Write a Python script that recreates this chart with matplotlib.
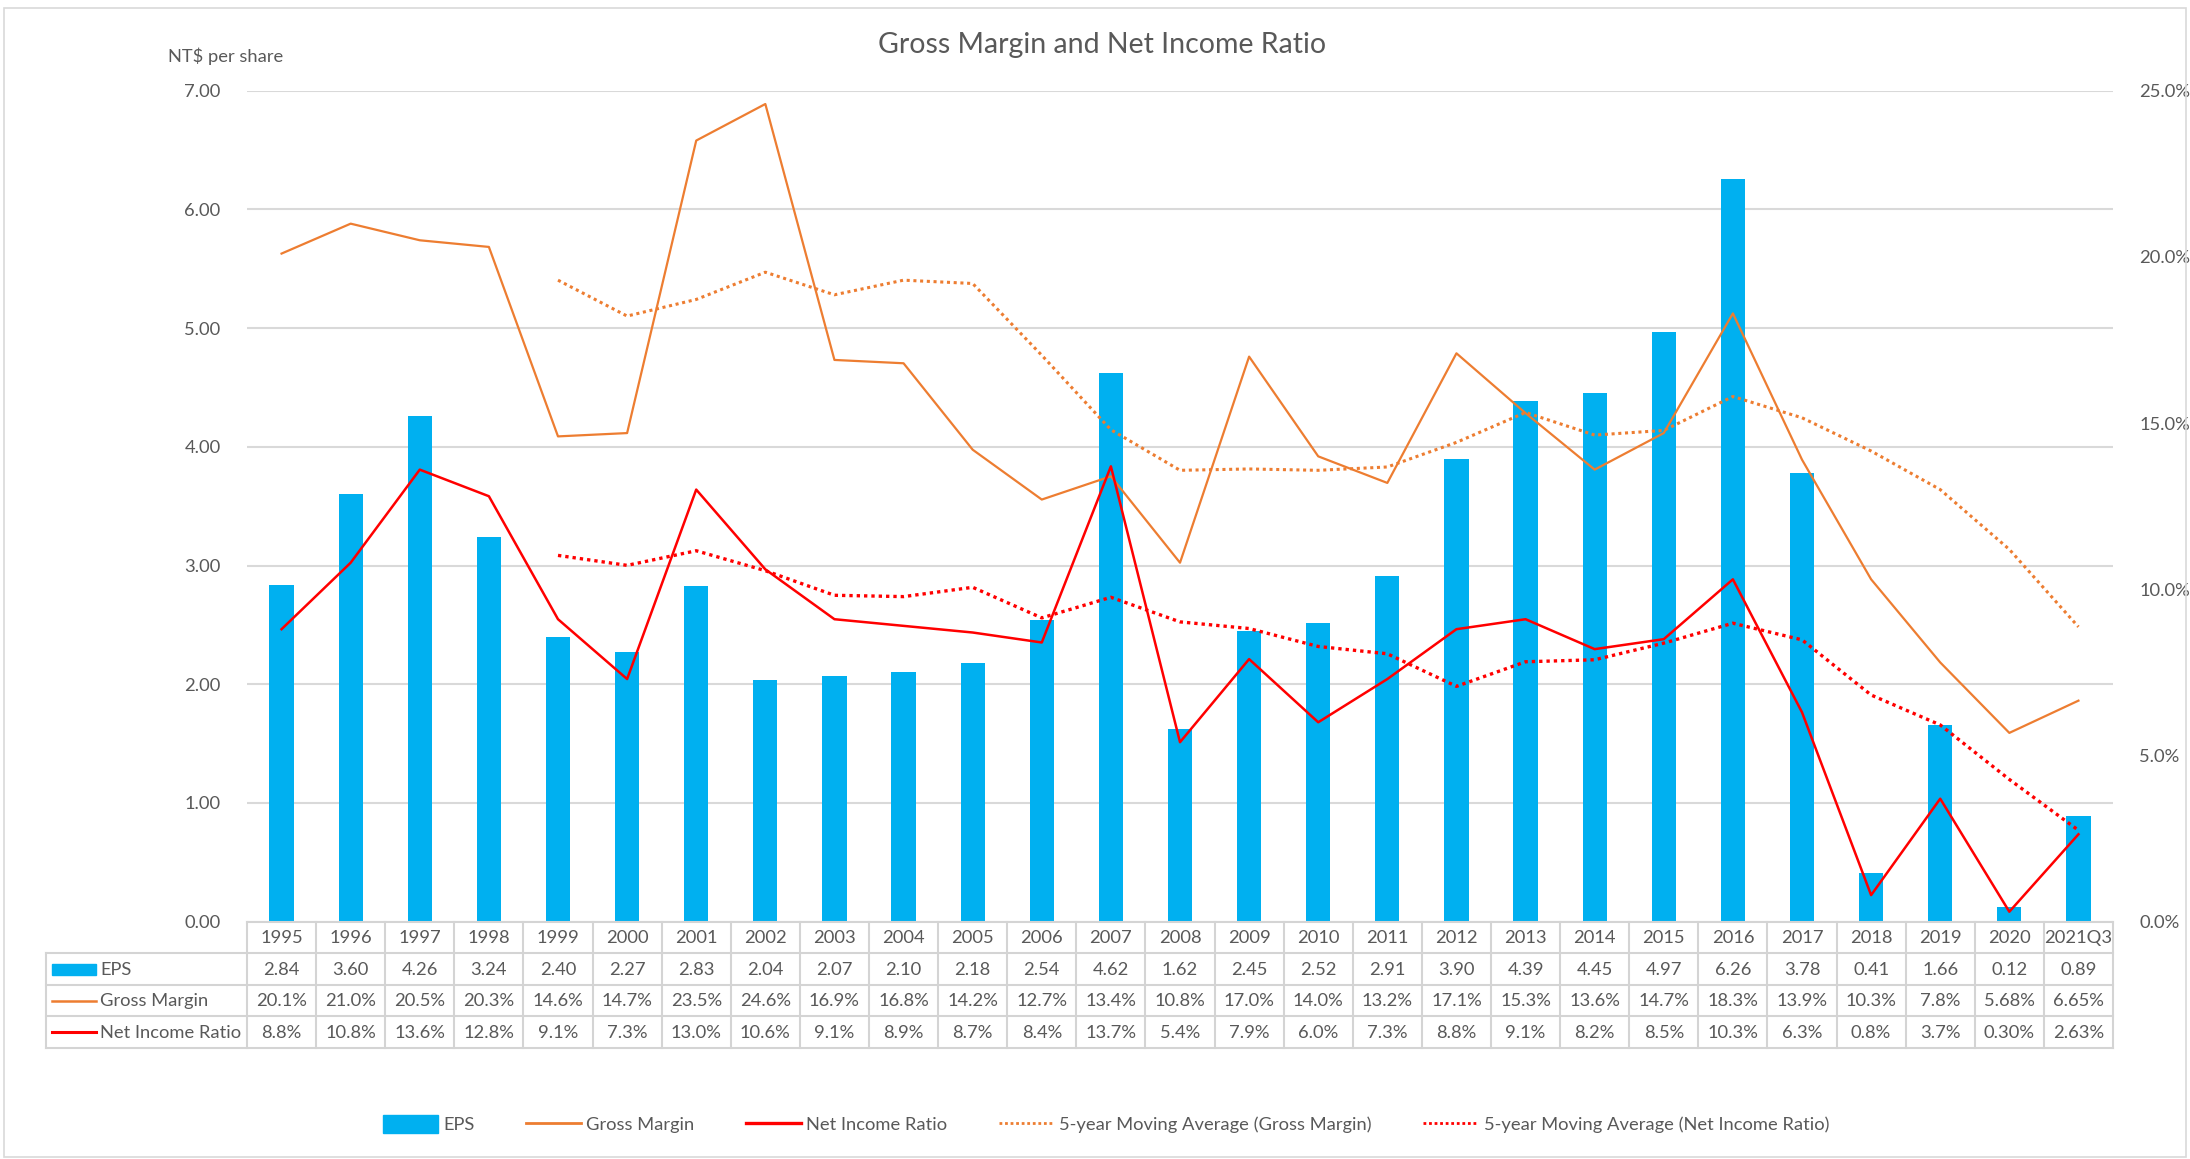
import matplotlib.pyplot as plt
import numpy as np
from matplotlib.patches import Rectangle
from matplotlib.lines import Line2D
from matplotlib.ticker import FuncFormatter, MultipleLocator

plt.rcParams['font.family'] = ['Lato', 'DejaVu Sans']

years = ['1995', '1996', '1997', '1998', '1999', '2000', '2001', '2002', '2003',
         '2004', '2005', '2006', '2007', '2008', '2009', '2010', '2011', '2012',
         '2013', '2014', '2015', '2016', '2017', '2018', '2019', '2020', '2021Q3']

eps_text = ['2.84', '3.60', '4.26', '3.24', '2.40', '2.27', '2.83', '2.04', '2.07',
            '2.10', '2.18', '2.54', '4.62', '1.62', '2.45', '2.52', '2.91', '3.90',
            '4.39', '4.45', '4.97', '6.26', '3.78', '0.41', '1.66', '0.12', '0.89']

gm_text = ['20.1%', '21.0%', '20.5%', '20.3%', '14.6%', '14.7%', '23.5%', '24.6%', '16.9%',
           '16.8%', '14.2%', '12.7%', '13.4%', '10.8%', '17.0%', '14.0%', '13.2%', '17.1%',
           '15.3%', '13.6%', '14.7%', '18.3%', '13.9%', '10.3%', '7.8%', '5.68%', '6.65%']

ni_text = ['8.8%', '10.8%', '13.6%', '12.8%', '9.1%', '7.3%', '13.0%', '10.6%', '9.1%',
           '8.9%', '8.7%', '8.4%', '13.7%', '5.4%', '7.9%', '6.0%', '7.3%', '8.8%',
           '9.1%', '8.2%', '8.5%', '10.3%', '6.3%', '0.8%', '3.7%', '0.30%', '2.63%']

eps = [float(s) for s in eps_text]
gross_margin = [float(s[:-1]) / 100 for s in gm_text]
net_income = [float(s[:-1]) / 100 for s in ni_text]

# 5-year moving averages as shown (starting 1999)
ma_gross = [np.nan] * 4 + [19.30, 18.22, 18.72, 19.54, 18.86, 19.30, 19.20, 17.04, 14.80,
                           13.58, 13.62, 13.58, 13.68, 14.42, 15.32, 14.64, 14.78, 15.80,
                           15.16, 14.16, 13.00, 11.20, 8.87]
ma_net = [np.nan] * 4 + [11.02, 10.72, 11.16, 10.56, 9.82, 9.78, 10.06, 9.14, 9.76,
                         9.02, 8.82, 8.28, 8.06, 7.08, 7.82, 7.88, 8.38, 8.98,
                         8.48, 6.82, 5.92, 4.28, 2.75]
ma_gross = [v / 100 for v in ma_gross]
ma_net = [v / 100 for v in ma_net]

BLUE = '#00B0F0'
ORANGE = '#ED7D31'
RED = '#FF0000'
GRID = '#D9D9D9'
TXT = '#595959'
FS = 13.2

W, H = 2190, 1159
fig = plt.figure(figsize=(W / 100, H / 100), dpi=100)
fig.patches.append(Rectangle((4 / W, 2 / H), 1 - 8 / W, 1 - 10 / H, transform=fig.transFigure,
                             fill=False, edgecolor=GRID, linewidth=1.2))

x = np.arange(len(years))
left, right = 247, 2113
top, bottom = 90.7, 921.7
ax = fig.add_axes([left / W, 1 - bottom / H, (right - left) / W, (bottom - top) / H])
ax.bar(x, eps, width=0.35, color=BLUE, zorder=2)
ax.set_xlim(-0.5, len(years) - 0.5)
ax.set_ylim(0, 7)
ax.yaxis.set_major_locator(MultipleLocator(1))
ax.yaxis.set_major_formatter(FuncFormatter(lambda v, p: f'{v:.2f}'))
ax.grid(axis='y', color=GRID, linewidth=1.5)
ax.set_axisbelow(True)
ax.set_xticks([])
ax.tick_params(axis='y', length=0, pad=19, labelsize=FS, labelcolor=TXT)
for s in ax.spines.values():
    s.set_visible(False)

ax2 = ax.twinx()
ax2.plot(x, gross_margin, color=ORANGE, linewidth=1.6)
ax2.plot(x, net_income, color=RED, linewidth=1.8)
ax2.plot(x, ma_gross, color=ORANGE, linewidth=2.2, linestyle=(0, (1, 1.2)))
ax2.plot(x, ma_net, color=RED, linewidth=2.4, linestyle=(0, (1, 1.2)))
ax2.set_ylim(0, 0.25)
ax2.yaxis.set_major_locator(MultipleLocator(0.05))
ax2.yaxis.set_major_formatter(FuncFormatter(lambda v, p: f'{v * 100:.1f}%'))
ax2.tick_params(axis='y', length=0, pad=19, labelsize=FS, labelcolor=TXT)
for s in ax2.spines.values():
    s.set_visible(False)

fig.text(168 / W, 1 - 56 / H, 'NT$ per share', fontsize=FS, color=TXT, va='center', ha='left')
fig.text(1102 / W, 1 - 45 / H, 'Gross Margin and Net Income Ratio', fontsize=20.5,
         color=TXT, ha='center', va='center')

# data table under the plot
tleft, tbottom = 45.7, 1048
label_w = (left - tleft) / ((right - left) / len(years))
tab = fig.add_axes([tleft / W, 1 - tbottom / H, (right - tleft) / W, (tbottom - bottom) / H])
x0 = -0.5 - label_w
tab.set_xlim(x0, len(years) - 0.5)
tab.set_ylim(4, 0)
tab.axis('off')
lc = dict(color='#D4D4D4', linewidth=1.5, clip_on=False)
tab.plot([-0.5, len(years) - 0.5], [0, 0], **lc)
for r in range(1, 5):
    tab.plot([x0, len(years) - 0.5], [r, r], **lc)
tab.plot([x0, x0], [1, 4], **lc)
for i in range(len(years) + 1):
    tab.plot([i - 0.5, i - 0.5], [0, 4], **lc)

rows = [years, eps_text, gm_text, ni_text]
for r, vals in enumerate(rows):
    for i, v in enumerate(vals):
        tab.text(i, r + 0.52, v, ha='center', va='center', fontsize=FS, color=TXT)

kx0, kx1 = x0 + 0.087, x0 + 0.73
tab.add_patch(Rectangle((kx0, 1.34), kx1 - kx0, 0.36, color=BLUE, clip_on=False))
tab.plot([kx0, kx1], [2.5, 2.5], color=ORANGE, linewidth=1.8, clip_on=False)
tab.plot([kx0, kx1], [3.5, 3.5], color=RED, linewidth=2.2, clip_on=False)
for r, lab in zip([1, 2, 3], ['EPS', 'Gross Margin', 'Net Income Ratio']):
    tab.text(kx1 + 0.06, r + 0.52, lab, ha='left', va='center', fontsize=FS, color=TXT)

handles = [
    Rectangle((0, 0), 1, 1, color=BLUE),
    Line2D([], [], color=ORANGE, linewidth=2),
    Line2D([], [], color=RED, linewidth=2.4),
    Line2D([], [], color=ORANGE, linewidth=2, linestyle=(0, (1, 1))),
    Line2D([], [], color=RED, linewidth=2, linestyle=(0, (1, 1))),
]
labels = ['EPS', 'Gross Margin', 'Net Income Ratio',
          '5-year Moving Average (Gross Margin)', '5-year Moving Average (Net Income Ratio)']
leg = fig.legend(handles, labels, loc='center', bbox_to_anchor=(1106 / W, 1 - 1124 / H),
                 ncol=5, frameon=False, fontsize=FS, handlelength=3.0, handleheight=1.1,
                 handletextpad=0.3, columnspacing=2.8)
for t in leg.get_texts():
    t.set_color(TXT)

fig.savefig('out.png', dpi=100)
